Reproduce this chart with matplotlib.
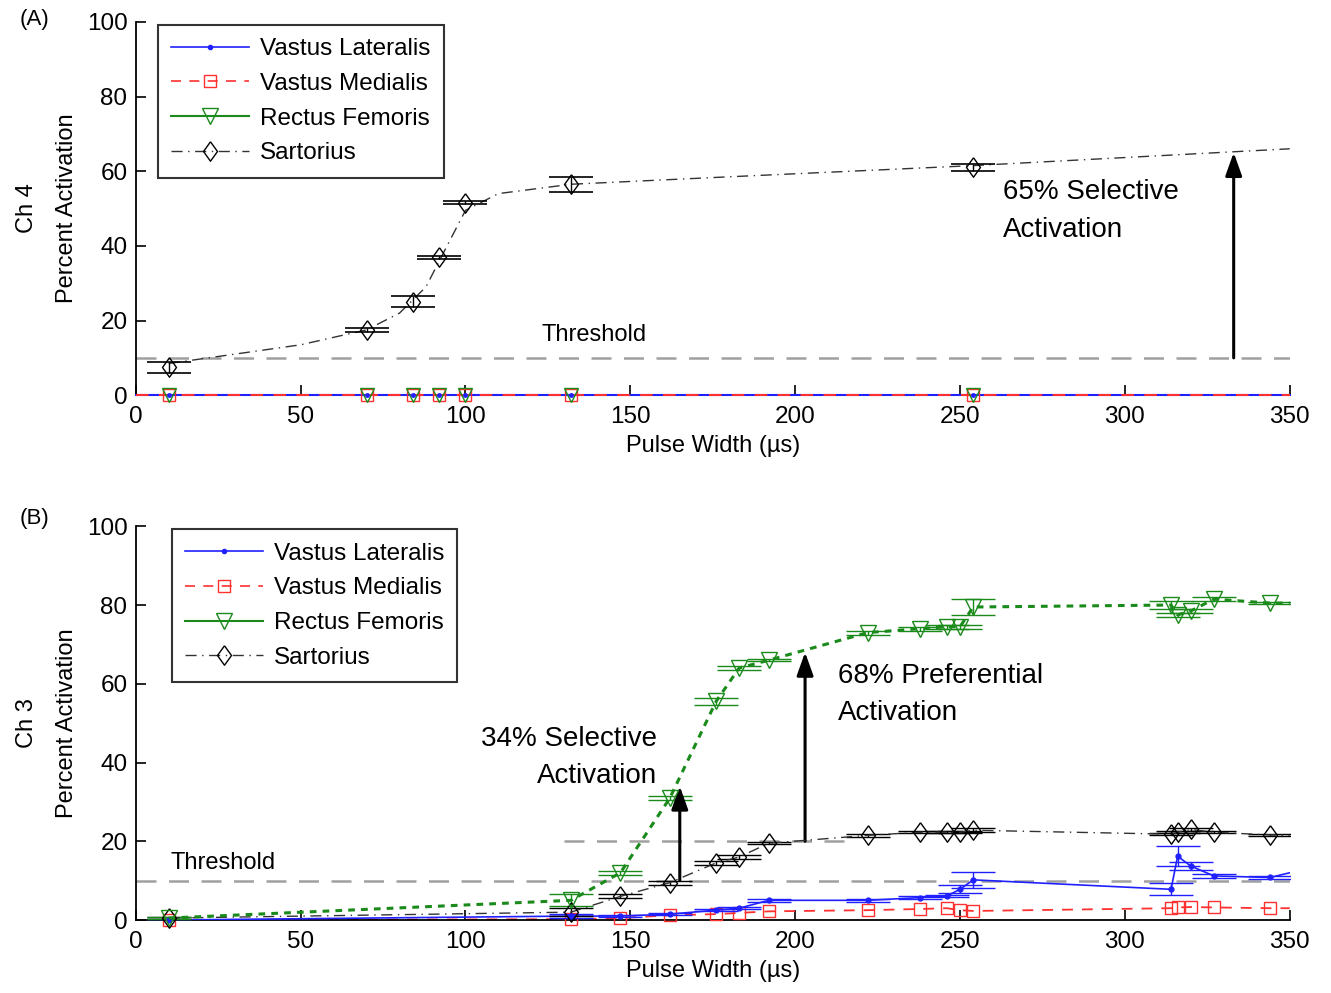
import matplotlib.pyplot as plt
import numpy as np

plt.rcParams['font.family'] = ['Liberation Sans', 'DejaVu Sans']

# ---- Panel A (Ch 4) ----
a_x = [10, 70, 84, 92, 100, 132, 254]
a_sart = [7.5, 17.5, 25, 37, 51.5, 56.5, 61]
a_sart_err = [1.5, 0.5, 1.5, 0.4, 0.4, 2.0, 1.0]
a_zero = [0, 0, 0, 0, 0, 0, 0]
# fitted curve
a_fit_x = [10, 30, 50, 70, 80, 88, 95, 100, 110, 132, 180, 254, 350]
a_fit_y = [8.5, 11.0, 13.5, 17.5, 22.0, 29.0, 41.0, 49.5, 54.0, 56.5, 58.5, 61.5, 66.0]

# ---- Panel B (Ch 3) ----
b_x = [10, 132, 147, 162, 176, 183, 192, 222, 238, 246, 250, 254, 314, 316, 320, 327, 344]
b_rf = [0.5, 5, 12, 31, 55.5, 64, 66, 73, 74, 74.5, 74.5, 79.5, 80, 77.5, 78.5, 81.5, 80.5]
b_rf_err = [0.3, 1.5, 0.5, 0.5, 0.8, 0.5, 0.3, 0.5, 0.5, 0.5, 0.5, 2.0, 1.0, 0.5, 0.5, 0.5, 0.3]
b_sart = [0.5, 2, 6, 9.5, 14.5, 16, 19.5, 21.5, 22.3, 22.3, 22.3, 22.8, 21.8, 22.3, 23, 22.3, 21.6]
b_sart_err = [0.3, 1.0, 0.5, 0.5, 0.5, 0.5, 0.3, 0.3, 0.3, 0.3, 0.3, 0.5, 0.3, 0.3, 0.3, 0.3, 0.3]
b_vl = [0, 1, 1, 1.5, 2.5, 3, 5, 5, 5.7, 6.1, 7.8, 10.2, 7.8, 16.2, 13.7, 11.2, 10.8]
b_vl_err = [0.2, 0.5, 0.3, 0.3, 0.3, 0.3, 0.3, 0.3, 0.3, 0.3, 1.0, 2.0, 1.5, 2.5, 1.0, 0.5, 0.3]
b_vm = [0, 0.2, 0.5, 1.2, 1.5, 1.8, 2.2, 2.5, 2.8, 3.0, 2.5, 2.3, 3.0, 3.2, 3.3, 3.2, 3.0]
b_end_x = 350
b_end = {'vl': 12, 'vm': 3, 'rf': 80.5, 'sart': 21.5}

fig = plt.figure(figsize=(13.31, 9.93), dpi=100)
axA = fig.add_axes([0.102, 0.602, 0.867, 0.376])
axB = fig.add_axes([0.102, 0.0735, 0.867, 0.3965])

grey = '#a0a0a0'
blue = '#2020ff'
red = '#ff3030'
green = '#1a8a1a'
dash_dot = (0, (8, 4, 1, 4))
# diamond a bit taller than wide, like the original
diamond = dict(marker=[(0, 1), (0.72, 0), (0, -1), (-0.72, 0), (0, 1)], ms=14)


def style_axes(ax, ch):
    ax.set_xlim(0, 350)
    ax.set_ylim(0, 100)
    ax.set_xticks(range(0, 351, 50))
    ax.set_yticks(range(0, 101, 20))
    ax.spines['top'].set_visible(False)
    ax.spines['right'].set_visible(False)
    ax.spines['left'].set_linewidth(1.3)
    ax.spines['bottom'].set_linewidth(1.3)
    ax.tick_params(direction='in', length=7, width=1.2, labelsize=17.5)
    ax.tick_params(axis='x', pad=8)
    ax.tick_params(axis='y', pad=6)
    ax.set_xlabel('Pulse Width (\u00b5s)', fontsize=17, labelpad=5)
    ax.set_ylabel('Percent Activation', fontsize=17, labelpad=6)
    ax.text(-0.094, 0.5, ch, transform=ax.transAxes, rotation=90,
            fontsize=17, ha='center', va='center')


def series_handles(ax):
    h1, = ax.plot([], [], color=blue, ls='-', marker='.', ms=6, lw=1.2)
    h2, = ax.plot([], [], color=red, ls=(0, (6, 5)), marker='s', ms=9, mfc='none', lw=1.2)
    h3, = ax.plot([], [], color=green, ls='-', marker='v', ms=11, mfc='none', lw=1.5)
    h4, = ax.plot([], [], color='#333333', ls=dash_dot, mfc='none', mec='black', lw=1, **diamond)
    return [h1, h2, h3, h4]


def add_legend(ax, x0):
    handles = series_handles(ax)
    leg = ax.legend(handles, ['Vastus Lateralis', 'Vastus Medialis', 'Rectus Femoris', 'Sartorius'],
                    loc='upper left', bbox_to_anchor=(x0, 0.992), borderaxespad=0, fontsize=17.5,
                    frameon=True, fancybox=False, edgecolor='black', handlelength=3.2,
                    borderpad=0.55, labelspacing=0.52, handletextpad=0.45)
    leg.get_frame().set_linewidth(1.5)


def draw_arrow(ax, x, y0, y1):
    ax.annotate('', xy=(x, y1), xytext=(x, y0),
                arrowprops=dict(arrowstyle='-|>,head_length=1.4,head_width=0.5',
                                color='black', lw=2.2, shrinkA=0, shrinkB=0))


# ---------------- Panel A ----------------
axA.plot([0, 350], [10, 10], color=grey, ls=(0, (8, 5)), lw=1.8, zorder=1)
axA.text(139, 13.2, 'Threshold', fontsize=17, ha='center', va='bottom')

axA.plot(a_fit_x, a_fit_y, color='#333333', ls=dash_dot, lw=1, zorder=2)
axA.errorbar(a_x, a_sart, yerr=a_sart_err, fmt='none', ecolor='black', elinewidth=1,
             capsize=16, capthick=1.2, zorder=3)
axA.plot(a_x, a_sart, ls='none', mfc='none', mec='black', mew=1, zorder=4, **diamond)

axA.plot([0, 350], [0, 0], color=blue, lw=1.5, zorder=4, clip_on=False)
axA.plot([0, 350], [0, 0], color=red, ls=(0, (6, 5)), lw=1.5, zorder=5, clip_on=False)
axA.plot(a_x, a_zero, ls='none', marker='s', ms=9, mfc='none', mec=red, zorder=6, clip_on=False)
axA.plot(a_x, a_zero, ls='none', marker='v', ms=10, mfc='none', mec=green, zorder=7, clip_on=False)
axA.plot(a_x, a_zero, ls='none', marker='.', ms=5, color=blue, zorder=8, clip_on=False)

draw_arrow(axA, 333, 10, 65)
axA.text(263, 54.4, '65% Selective', fontsize=20, ha='left', va='center')
axA.text(263, 44.2, 'Activation', fontsize=20, ha='left', va='center')

style_axes(axA, 'Ch 4')
add_legend(axA, 0.019)
fig.text(0.026, 0.980, '(A)', fontsize=16, ha='center', va='center')

# ---------------- Panel B ----------------
axB.plot([0, 350], [10, 10], color=grey, ls=(0, (8, 5)), lw=1.8, zorder=1)
axB.plot([130, 215], [20, 20], color=grey, ls=(0, (8, 5)), lw=1.8, zorder=1)
axB.text(10.5, 11.8, 'Threshold', fontsize=17, ha='left', va='bottom')

# Vastus Medialis
axB.plot(b_x + [b_end_x], b_vm + [b_end['vm']], color=red, ls=(0, (6, 5)), lw=1.3, zorder=2)
axB.plot(b_x, b_vm, ls='none', marker='s', ms=9, mfc='none', mec=red, zorder=3, clip_on=False)
# Vastus Lateralis
axB.errorbar(b_x, b_vl, yerr=b_vl_err, fmt='none', ecolor=blue, elinewidth=1,
             capsize=16, capthick=1, zorder=3)
axB.plot(b_x + [b_end_x], b_vl + [b_end['vl']], color=blue, lw=1.2, zorder=3)
axB.plot(b_x, b_vl, ls='none', marker='.', ms=7, color=blue, zorder=4, clip_on=False)
# Sartorius
axB.errorbar(b_x, b_sart, yerr=b_sart_err, fmt='none', ecolor='black', elinewidth=1,
             capsize=16, capthick=1, zorder=3)
axB.plot(b_x + [b_end_x], b_sart + [b_end['sart']], color='#333333', ls=dash_dot, lw=1, zorder=4)
axB.plot(b_x, b_sart, ls='none', mfc='none', mec='black', zorder=5, clip_on=False, **diamond)
# Rectus Femoris
axB.errorbar(b_x, b_rf, yerr=b_rf_err, fmt='none', ecolor=green, elinewidth=1,
             capsize=16, capthick=1, zorder=3)
axB.plot(b_x + [b_end_x], b_rf + [b_end['rf']], color=green, ls=(0, (2.2, 2)), lw=2.2, zorder=4)
axB.plot(b_x, b_rf, ls='none', marker='v', ms=11, mfc='none', mec=green, zorder=5, clip_on=False)

draw_arrow(axB, 165, 10, 34)
axB.text(158, 46, '34% Selective', fontsize=20, ha='right', va='center')
axB.text(158, 36.5, 'Activation', fontsize=20, ha='right', va='center')
draw_arrow(axB, 203, 20, 68)
axB.text(213, 62, '68% Preferential', fontsize=20, ha='left', va='center')
axB.text(213, 52.5, 'Activation', fontsize=20, ha='left', va='center')

style_axes(axB, 'Ch 3')
add_legend(axB, 0.031)
fig.text(0.026, 0.478, '(B)', fontsize=16, ha='center', va='center')

fig.savefig('out.png', dpi=100)
